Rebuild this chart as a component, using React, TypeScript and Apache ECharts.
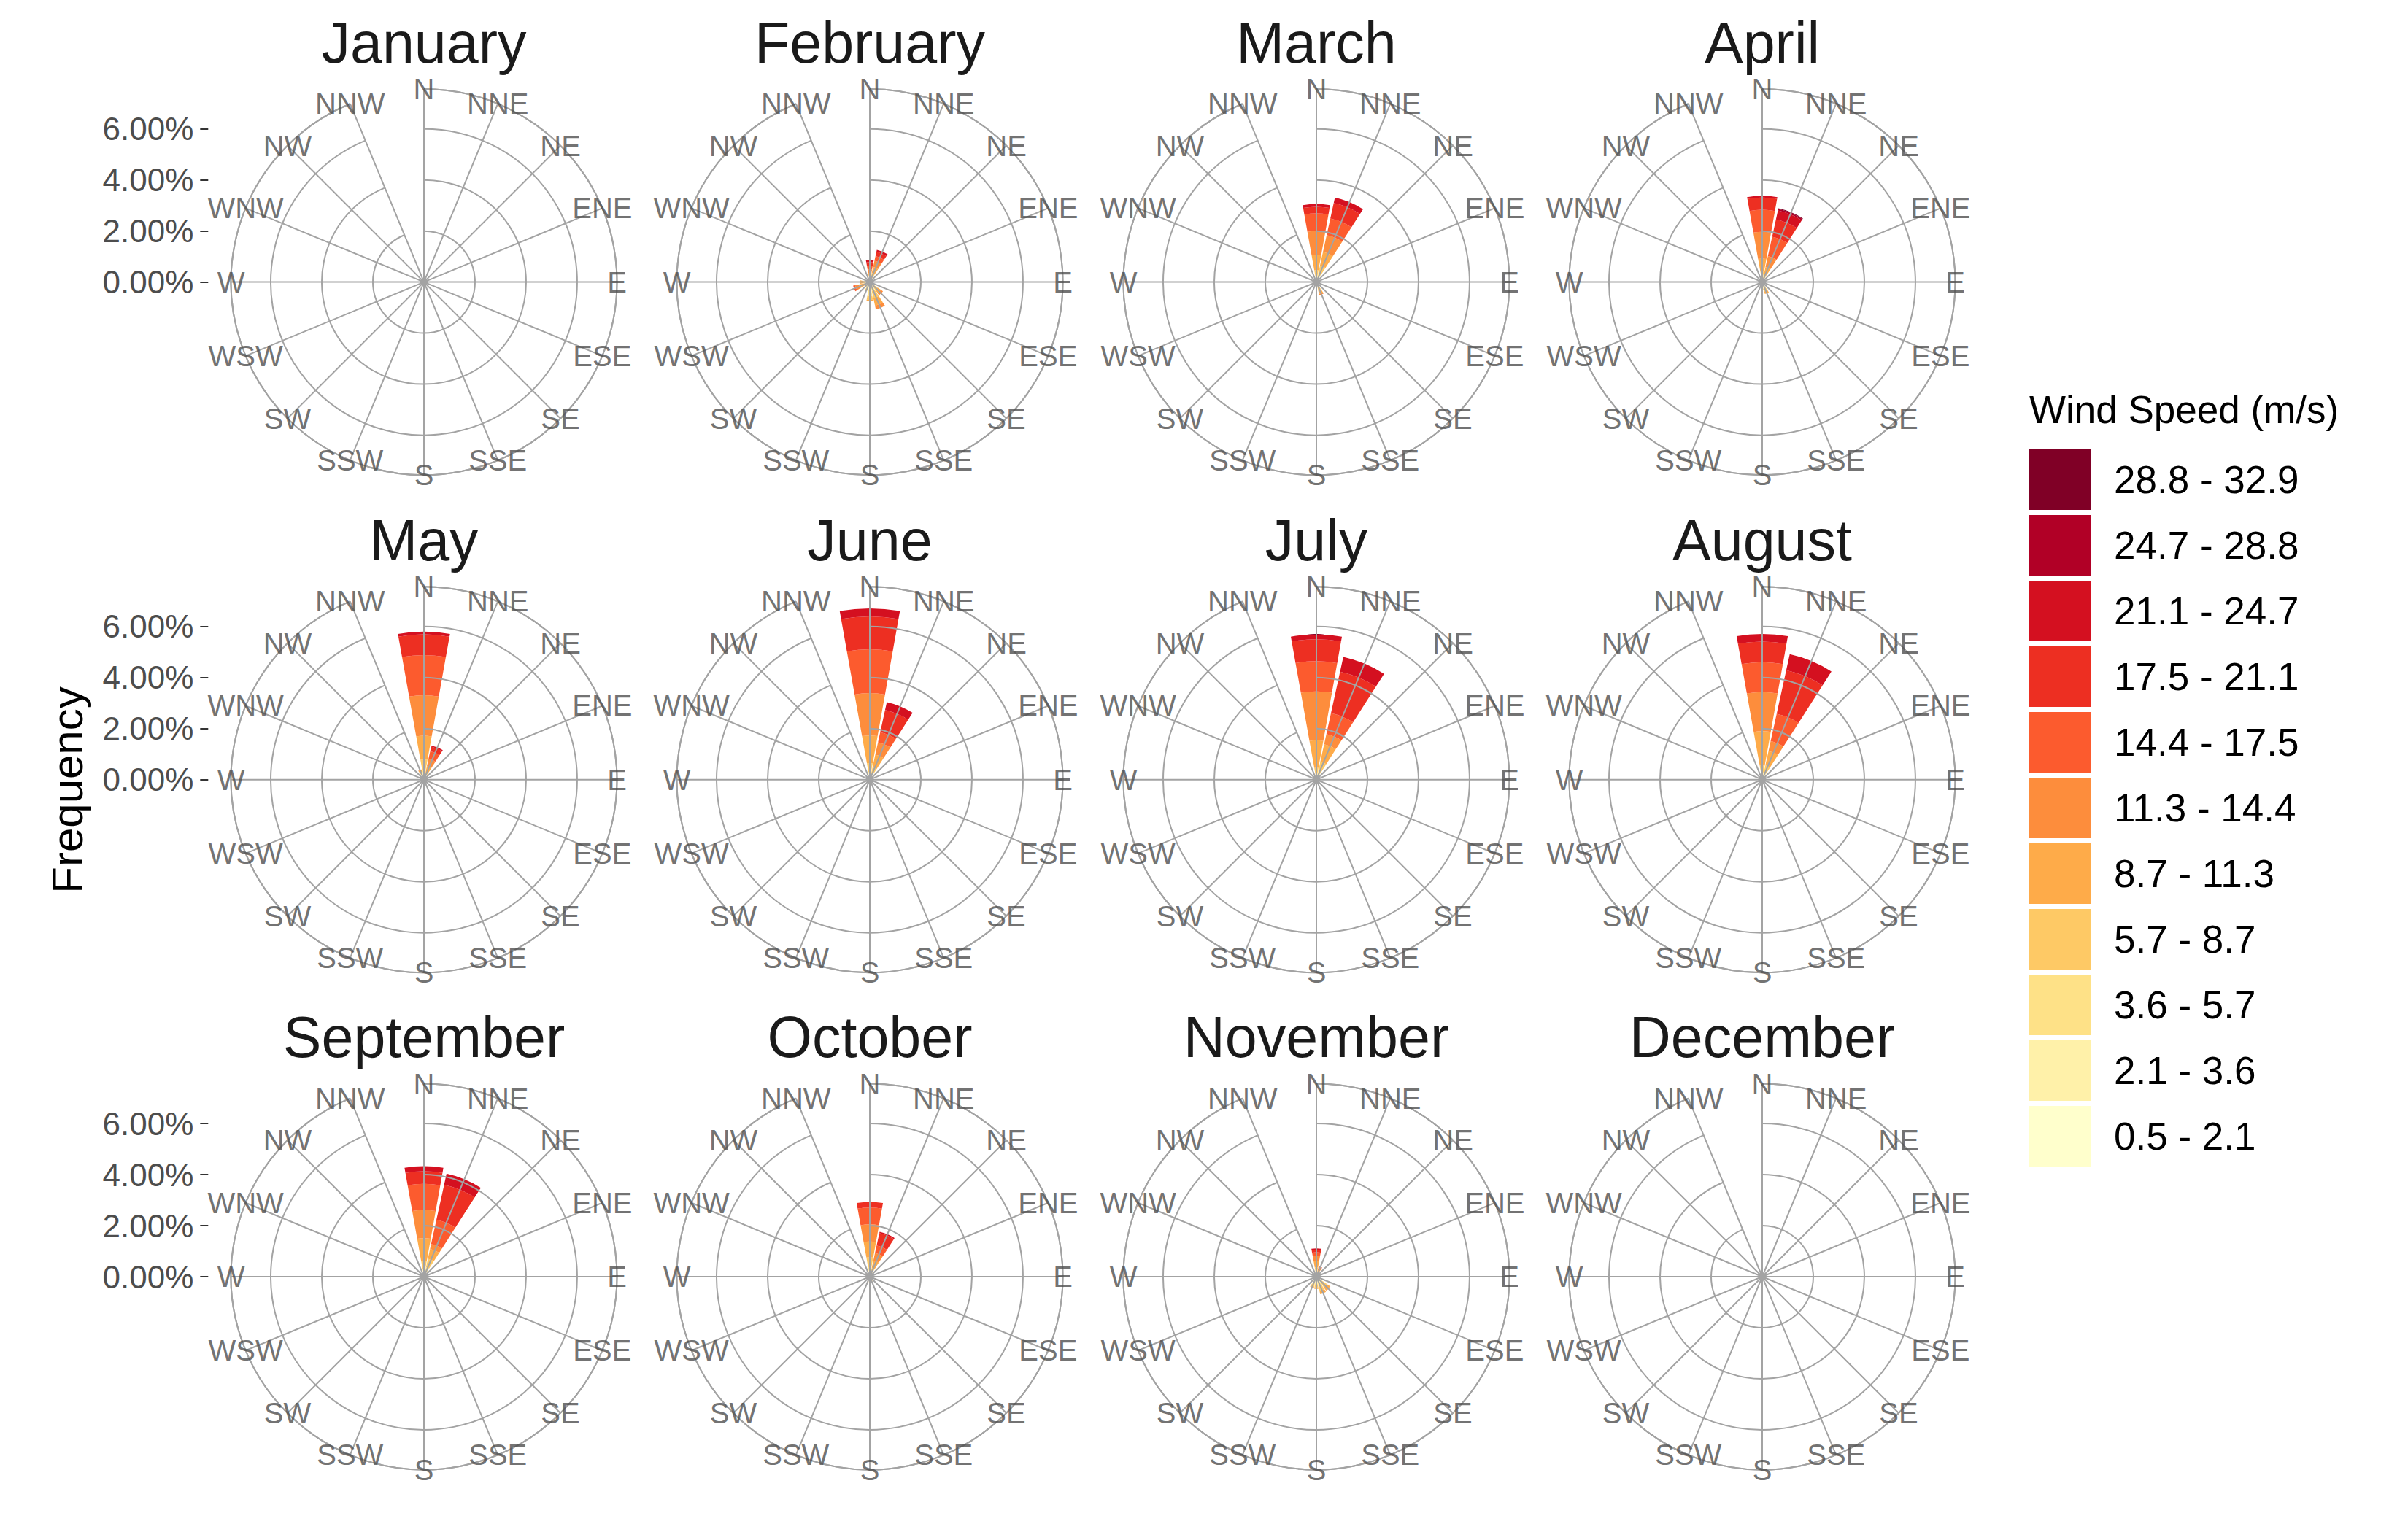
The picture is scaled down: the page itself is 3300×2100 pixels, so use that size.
import React, { useEffect, useRef } from "react";
import * as echarts from "echarts";

const DIRS = ["N", "NNE", "NE", "ENE", "E", "ESE", "SE", "SSE", "S", "SSW", "SW", "WSW", "W", "WNW", "NW", "NNW"];
const BINS = ["0.5 - 2.1", "2.1 - 3.6", "3.6 - 5.7", "5.7 - 8.7", "8.7 - 11.3", "11.3 - 14.4", "14.4 - 17.5", "17.5 - 21.1", "21.1 - 24.7", "24.7 - 28.8", "28.8 - 32.9"];
const COLORS = ["#FFFFCC", "#FFF1A9", "#FEE187", "#FEC965", "#FEAB49", "#FD8D3C", "#FC5B2E", "#ED2F22", "#D41020", "#B10026", "#800026"];
const MONTHS = ["January", "February", "March", "April", "May", "June", "July", "August", "September", "October", "November", "December"];
const RADIUS_TICKS = [0, 2, 4, 6];

// frequency (%) per direction, per speed bin (lightest -> darkest)
type Row = [string, number[]];
const JAN: Row[] = [];
const FEB: Row[] = [
  ["N", [0.02, 0.04, 0.06, 0.12, 0.12, 0.14, 0.14, 0.14, 0.08, 0, 0]],
  ["NNE", [0.02, 0.04, 0.1, 0.2, 0.24, 0.25, 0.19, 0.17, 0.08, 0, 0]],
  ["SE", [0.05, 0.08, 0.1, 0.15, 0.15, 0.1, 0, 0, 0, 0, 0]],
  ["SSE", [0.05, 0.1, 0.2, 0.3, 0.3, 0.15, 0, 0, 0, 0, 0]],
  ["S", [0.1, 0.2, 0.25, 0.15, 0.05, 0, 0, 0, 0, 0, 0]],
  ["SSW", [0.08, 0.12, 0.1, 0.05, 0, 0, 0, 0, 0, 0, 0]],
  ["SW", [0.05, 0.08, 0.08, 0.05, 0, 0, 0, 0, 0, 0, 0]],
  ["WSW", [0.02, 0.03, 0.07, 0.12, 0.2, 0.15, 0.08, 0, 0, 0, 0]],
  ["W", [0.03, 0.05, 0.08, 0.12, 0.1, 0, 0, 0, 0, 0, 0]],
];
const MAR: Row[] = [
  ["N", [0.04, 0.06, 0.12, 0.25, 0.6, 0.93, 0.69, 0.26, 0.11, 0, 0]],
  ["NNE", [0.06, 0.1, 0.15, 0.35, 0.55, 0.67, 0.67, 0.62, 0.22, 0, 0]],
  ["SSE", [0.03, 0.05, 0.1, 0.15, 0.15, 0.05, 0, 0, 0, 0, 0]],
  ["S", [0.05, 0.08, 0.06, 0, 0, 0, 0, 0, 0, 0, 0]],
];
const APR: Row[] = [
  ["N", [0.03, 0.05, 0.1, 0.22, 0.52, 1.05, 0.86, 0.48, 0.07, 0, 0]],
  ["NNE", [0.03, 0.04, 0.08, 0.15, 0.3, 0.44, 0.78, 0.69, 0.36, 0.06, 0.03]],
  ["SSE", [0.04, 0.08, 0.12, 0.14, 0.1, 0, 0, 0, 0, 0, 0]],
  ["S", [0.06, 0.1, 0.1, 0.04, 0, 0, 0, 0, 0, 0, 0]],
  ["SSW", [0.04, 0.06, 0.05, 0, 0, 0, 0, 0, 0, 0, 0]],
  ["SW", [0.03, 0.05, 0.04, 0, 0, 0, 0, 0, 0, 0, 0]],
  ["NNW", [0.03, 0.05, 0.05, 0, 0, 0, 0, 0, 0, 0, 0]],
];
const MAY: Row[] = [
  ["N", [0.04, 0.1, 0.22, 0.43, 0.93, 1.59, 1.57, 0.81, 0.11, 0, 0]],
  ["NNE", [0.02, 0.04, 0.08, 0.15, 0.25, 0.3, 0.3, 0.18, 0.05, 0, 0]],
  ["NNW", [0.03, 0.06, 0.1, 0.12, 0.08, 0.02, 0, 0, 0, 0, 0]],
  ["S", [0.03, 0.05, 0.04, 0, 0, 0, 0, 0, 0, 0, 0]],
];
const JUN: Row[] = [
  ["N", [0.05, 0.08, 0.17, 0.35, 1.08, 1.66, 1.72, 1.28, 0.32, 0, 0]],
  ["NNE", [0.03, 0.05, 0.12, 0.3, 0.5, 0.5, 0.4, 0.89, 0.32, 0, 0]],
];
const JUL: Row[] = [
  ["N", [0.03, 0.06, 0.12, 0.25, 1.08, 1.92, 1.18, 0.86, 0.19, 0, 0]],
  ["NNE", [0.05, 0.09, 0.18, 0.4, 0.7, 0.41, 0.84, 1.66, 0.59, 0, 0]],
];
const AUG: Row[] = [
  ["N", [0.04, 0.07, 0.14, 0.3, 1.35, 1.53, 1.17, 0.81, 0.3, 0, 0]],
  ["NNE", [0.05, 0.08, 0.14, 0.3, 0.58, 0.39, 1.1, 1.75, 0.64, 0, 0]],
];
const SEP: Row[] = [
  ["N", [0.05, 0.08, 0.15, 0.33, 0.9, 1.1, 1.03, 0.49, 0.2, 0, 0]],
  ["NNE", [0.07, 0.1, 0.2, 0.35, 0.39, 0.2, 0.97, 1.41, 0.44, 0, 0]],
];
const OCT: Row[] = [
  ["N", [0.08, 0.1, 0.2, 0.38, 0.62, 0.67, 0.66, 0.22, 0, 0, 0]],
  ["NNE", [0.01, 0.04, 0.1, 0.2, 0.3, 0.3, 0.3, 0.5, 0.05, 0, 0]],
  ["S", [0.05, 0.08, 0.06, 0.03, 0, 0, 0, 0, 0, 0, 0]],
  ["SSE", [0.04, 0.06, 0.06, 0.04, 0, 0, 0, 0, 0, 0, 0]],
];
const NOV: Row[] = [
  ["N", [0.03, 0.06, 0.1, 0.18, 0.25, 0.2, 0.14, 0.1, 0.05, 0, 0]],
  ["NNE", [0.01, 0.03, 0.06, 0.08, 0.08, 0.08, 0.08, 0, 0, 0, 0]],
  ["SE", [0.05, 0.1, 0.15, 0.2, 0.15, 0.02, 0, 0, 0, 0, 0]],
  ["SSE", [0.05, 0.12, 0.2, 0.2, 0.13, 0, 0, 0, 0, 0, 0]],
  ["S", [0.05, 0.1, 0.15, 0.12, 0.06, 0, 0, 0, 0, 0, 0]],
  ["SSW", [0.06, 0.12, 0.14, 0.1, 0.04, 0, 0, 0, 0, 0, 0]],
  ["SW", [0.04, 0.08, 0.06, 0, 0, 0, 0, 0, 0, 0, 0]],
];
const DEC: Row[] = [];
const MONTH_DATA = [JAN, FEB, MAR, APR, MAY, JUN, JUL, AUG, SEP, OCT, NOV, DEC];

// layout (pixels)
const FONT = "'Liberation Sans', Arial, sans-serif";
const COL_X = [581, 1192, 1804, 2415];
const ROW_Y = [386.6, 1068.7, 1750];
const R = 264.5;
const RMAX = 7.56; // outer circle, in %
const GRID = "#A3A3A3";

export default function App() {
  const ref = useRef<HTMLDivElement>(null);
  useEffect(() => {
    if (!ref.current) return;
    const chart = echarts.init(ref.current, undefined, { renderer: "svg" });

    const polar = MONTHS.map((_, i) => ({
      center: [COL_X[i % 4], ROW_Y[Math.floor(i / 4)]],
      radius: R,
    }));
    const angleAxis = MONTHS.map((_, i) => ({
      polarIndex: i,
      type: "category",
      data: DIRS,
      boundaryGap: false,
      startAngle: 90,
      clockwise: true,
      z: 5,
      axisLine: { show: true, lineStyle: { color: GRID, width: 2 } },
      axisTick: { show: false },
      axisLabel: { show: false },
      splitLine: { show: true, interval: 0, lineStyle: { color: GRID, width: 2 } },
    }));
    const radiusAxis = MONTHS.map((_, i) => ({
      polarIndex: i,
      type: "value",
      min: 0,
      max: RMAX,
      interval: 2,
      z: 5,
      axisLine: { show: false },
      axisTick: { show: false },
      axisLabel: { show: false },
      splitLine: { show: true, lineStyle: { color: GRID, width: 2 } },
    }));

    const grid = ROW_Y.map((y) => ({ left: 285.3, top: y - R, height: R, width: 10 }));
    const xAxis = ROW_Y.map((_, r) => ({ gridIndex: r, type: "value", show: false }));
    const yAxis = ROW_Y.map((_, r) => ({
      gridIndex: r,
      type: "value",
      min: 0,
      max: RMAX,
      interval: 2,
      axisLine: { show: false },
      axisTick: { show: true, length: 11, lineStyle: { color: "#333333", width: 2 }, customValues: RADIUS_TICKS },
      axisLabel: {
        customValues: RADIUS_TICKS,
        formatter: (v: number) => v.toFixed(2) + "%",
        margin: 20,
        fontSize: 44,
        color: "#4D4D4D",
        fontFamily: FONT,
      },
      splitLine: { show: false },
    }));

    const series: any[] = [];
    MONTH_DATA.forEach((rows, i) => {
      const lookup: Record<string, number[]> = {};
      rows.forEach(([d, v]) => (lookup[d] = v));
      BINS.forEach((bin, b) => {
        series.push({
          type: "bar",
          name: bin,
          coordinateSystem: "polar",
          polarIndex: i,
          stack: "m" + i,
          barWidth: "90%",
          silent: true,
          itemStyle: { color: COLORS[b] },
          data: DIRS.map((d) => (lookup[d] ? lookup[d][b] : 0)),
        });
      });
      series.push({
        type: "scatter",
        coordinateSystem: "polar",
        polarIndex: i,
        silent: true,
        clip: false,
        z: 10,
        symbol: "circle",
        symbolSize: 1,
        itemStyle: { color: "rgba(0,0,0,0)" },
        label: {
          show: true,
          position: "inside",
          formatter: "{b}",
          fontSize: 40,
          color: "#4D4D4D",
          fontFamily: FONT,
        },
        data: DIRS.map((d, k) => ({ name: d, value: [RMAX, k] })),
      });
    });

    const graphic: any[] = MONTHS.map((m, i) => ({
      type: "text",
      x: COL_X[i % 4],
      y: ROW_Y[Math.floor(i / 4)] - 328.6,
      silent: true,
      style: { text: m, fontSize: 79, fill: "#1A1A1A", fontFamily: FONT, align: "center", verticalAlign: "middle" },
    }));
    graphic.push({
      type: "text",
      x: 92,
      y: 1083,
      rotation: Math.PI / 2,
      silent: true,
      style: { text: "Frequency", fontSize: 60, fill: "#000000", fontFamily: FONT, align: "center", verticalAlign: "middle" },
    });
    graphic.push({
      type: "text",
      x: 2781,
      y: 561,
      silent: true,
      style: { text: "Wind Speed (m/s)", fontSize: 53, fill: "#000000", fontFamily: FONT, align: "left", verticalAlign: "middle" },
    });

    chart.setOption({
      animation: false,
      backgroundColor: "#FFFFFF",
      polar,
      angleAxis,
      radiusAxis,
      grid,
      xAxis,
      yAxis,
      legend: {
        orient: "vertical",
        left: 2781,
        top: 616,
        padding: 0,
        itemWidth: 84,
        itemHeight: 83,
        itemGap: 7,
        icon: "rect",
        selectedMode: false,
        data: [...BINS].reverse(),
        formatter: (n: string) => `{t|${n}}`,
        textStyle: { rich: { t: { fontSize: 53, color: "#000000", padding: [0, 0, 0, 27], fontFamily: FONT } } },
      },
      graphic,
      series,
    });
    return () => chart.dispose();
  }, []);
  return <div ref={ref} style={{ position: "fixed", left: 0, top: 0, width: 3300, height: 2100 }} />;
}
